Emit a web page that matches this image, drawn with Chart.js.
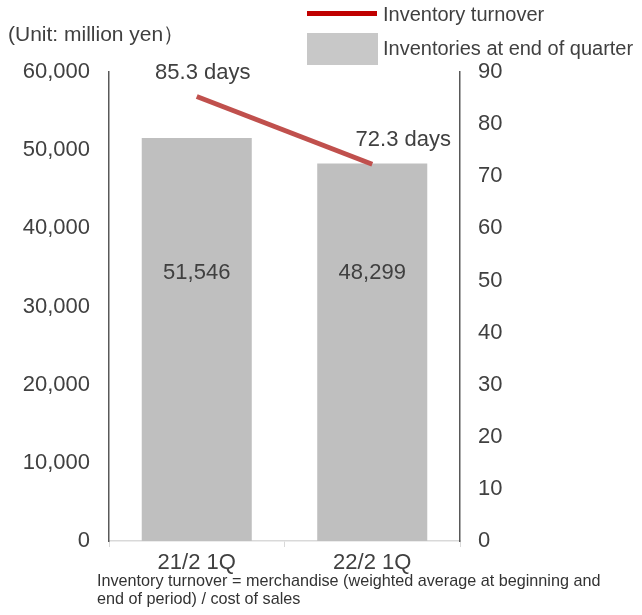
<!DOCTYPE html>
<html>
<head>
<meta charset="utf-8">
<script src="https://cdn.jsdelivr.net/npm/chart.js@4/dist/chart.umd.min.js"></script>
<style>
  html, body { margin: 0; padding: 0; background: #fff; }
  #wrap { width: 642px; height: 615px; }
</style>
</head>
<body>
<div id="wrap"><canvas id="inv-chart" width="642" height="615"></canvas></div>
<script>
/* ---------- data ---------- */
const categories = ["21/2 1Q", "22/2 1Q"];
const inventories = [51546, 48299];      // million yen, end of quarter
const turnoverDays = [85.3, 72.3];       // days
const leftMax = 60000, leftStep = 10000;
const rightMax = 90, rightStep = 10;

const unitText = "(Unit: million yen\uFF09";
const noteLines = [
  "Inventory turnover = merchandise (weighted average at beginning and",
  "end of period) / cost of sales"
];

/* ---------- look ---------- */
const FONT = "'Liberation Sans', Arial, sans-serif";
const TXT = "#404040";
const BAR = "#bfbfbf";
const LINE = "#c0504d";
const fmt = v => v.toLocaleString("en-US");

/* labels, legend and notes drawn on top of the chart */
const extras = {
  id: "extras",
  afterDatasetsDraw(chart) {
    const ctx = chart.ctx;
    const yL = chart.scales.y;
    ctx.save();
    ctx.fillStyle = TXT;
    ctx.textAlign = "center";
    ctx.textBaseline = "middle";
    ctx.font = "22px " + FONT;

    // values inside the bars
    chart.getDatasetMeta(1).data.forEach((bar, i) => {
      ctx.fillText(fmt(inventories[i]), bar.x, yL.getPixelForValue(34300));
    });

    // turnover labels over the line
    const offs = [[6, -24], [31, -24]];
    chart.getDatasetMeta(0).data.forEach((pt, i) => {
      ctx.fillText(turnoverDays[i] + " days", pt.x + offs[i][0], pt.y + offs[i][1]);
    });

    // unit
    ctx.textAlign = "left";
    ctx.font = "21px " + FONT;
    ctx.fillText(unitText, 8, 35);

    // legend
    ctx.font = "20px " + FONT;
    ctx.fillStyle = "#c00000";
    ctx.fillRect(307, 11, 70, 5);
    ctx.fillStyle = "#c8c8c8";
    ctx.fillRect(307, 33, 71, 32);
    ctx.fillStyle = TXT;
    ctx.fillText(chart.data.datasets[0].label, 383, 15);
    ctx.fillText(chart.data.datasets[1].label, 383, 49);

    // footnote
    ctx.font = "16.2px " + FONT;
    ctx.fillStyle = "#333";
    noteLines.forEach((t, i) => ctx.fillText(t, 97, 582 + i * 18));
    ctx.restore();
  }
};

new Chart(document.getElementById("inv-chart"), {
  data: {
    labels: categories,
    datasets: [
      {
        type: "line", label: "Inventory turnover", data: turnoverDays, yAxisID: "y1",
        borderColor: LINE, borderWidth: 5, borderCapStyle: "butt",
        pointRadius: 0, order: 0
      },
      {
        type: "bar", label: "Inventories at end of quarter", data: inventories, yAxisID: "y",
        backgroundColor: BAR, categoryPercentage: 1, barPercentage: 0.627, order: 1
      }
    ]
  },
  plugins: [extras],
  options: {
    responsive: false,
    animation: false,
    layout: { padding: { top: 72, left: 0, right: 0, bottom: 0 } },
    plugins: { legend: { display: false }, tooltip: { enabled: false } },
    scales: {
      x: {
        offset: true,
        grid: { offset: true, drawOnChartArea: false, drawTicks: true, tickLength: 6, color: "#d9d9d9" },
        border: { color: "#d9d9d9", width: 1.5 },
        ticks: { color: TXT, font: { family: FONT, size: 22 }, padding: 3, maxRotation: 0 },
        afterFit: s => { s.height = 74; }
      },
      y: {
        position: "left", min: 0, max: leftMax,
        grid: { display: false, drawTicks: false },
        border: { display: true, color: "#595959", width: 1.5 },
        ticks: { stepSize: leftStep, color: TXT, font: { family: FONT, size: 22 }, padding: 19, callback: v => fmt(v) },
        afterFit: s => { s.width = 109; }
      },
      y1: {
        position: "right", min: 0, max: rightMax,
        grid: { display: false, drawTicks: false },
        border: { display: true, color: "#595959", width: 1.5 },
        ticks: { stepSize: rightStep, color: TXT, font: { family: FONT, size: 22 }, padding: 18 },
        afterFit: s => { s.width = 182; }
      }
    }
  }
});
</script>
</body>
</html>
